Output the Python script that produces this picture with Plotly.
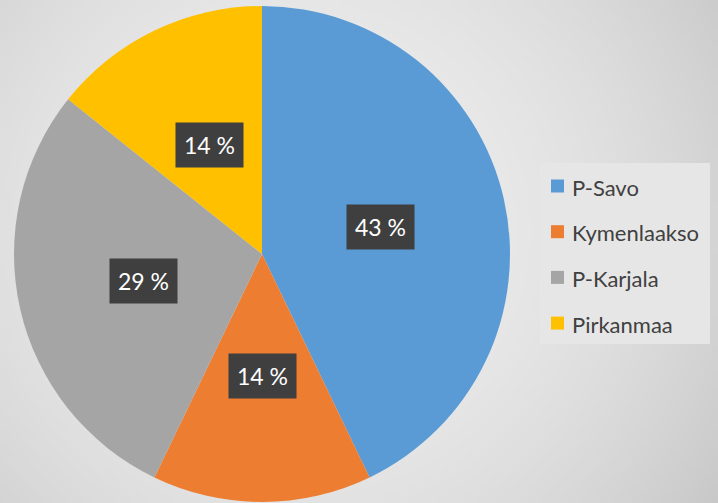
import math, zlib, struct, base64
import plotly.graph_objects as go

labels = ["P-Savo", "Kymenlaakso", "P-Karjala", "Pirkanmaa"]
values = [3, 1, 2, 1]
colors = ["#5B9BD5", "#ED7D31", "#A5A5A5", "#FFC000"]

W, H = 718, 503
FONT = "Lato, Roboto, sans-serif"

# ---- radial gradient background as a PNG (style only) ----
def make_png(w, h):
    rows = []
    cx, cy = w * 0.42, h * 0.45
    dmax = math.hypot(max(cx, w - cx), max(cy, h - cy))
    for j in range(h):
        row = bytearray([0])
        for i in range(w):
            d = math.hypot(i - cx, j - cy) / dmax
            v = int(238 - 38 * d ** 2)
            row += bytes([v, v, v])
        rows.append(bytes(row))
    raw = b"".join(rows)
    def chunk(t, data):
        c = struct.pack(">I", len(data)) + t + data
        return c + struct.pack(">I", zlib.crc32(t + data) & 0xffffffff)
    png = b"\x89PNG\r\n\x1a\n" + chunk(b"IHDR", struct.pack(">IIBBBBB", w, h, 8, 2, 0, 0, 0))
    png += chunk(b"IDAT", zlib.compress(raw, 9)) + chunk(b"IEND", b"")
    return "data:image/png;base64," + base64.b64encode(png).decode()

bg = make_png(180, 126)

# pie geometry (pixels)
left, right = 14, 510
top_px = 5
r = (right - left) / 2
cx_px = left + r
cy_px_from_bottom = (H - top_px) / 2

fig = go.Figure(go.Pie(
    labels=labels, values=values, sort=False, direction="clockwise", rotation=0,
    marker=dict(colors=colors, line=dict(width=0)),
    textinfo="none", hoverinfo="label+percent", showlegend=False,
    domain=dict(x=[left / W, right / W], y=[0, (H - top_px) / H]),
))

annotations = []
total = sum(values)
cum = 0
for lab, v in zip(labels, values):
    mid = (cum + v / 2) / total * 2 * math.pi
    cum += v
    px = cx_px + 0.49 * r * math.sin(mid)
    py = cy_px_from_bottom + 0.49 * r * math.cos(mid)
    annotations.append(dict(
        x=px / W, y=py / H, xref="paper", yref="paper", showarrow=False,
        text=f"{round(v / total * 100)} %",
        font=dict(family=FONT, size=23, color="white"),
        bgcolor="#3f3f3f", borderpad=8, xanchor="center", yanchor="middle",
    ))

# custom legend
shapes = [dict(type="rect", xref="paper", yref="paper",
               x0=540 / W, x1=710 / W, y0=1 - 344 / H, y1=1 - 163 / H,
               fillcolor="#e6e6e6", line=dict(width=0), layer="below")]
leg_y0, leg_step = 186, 45.7
for i, (lab, col) in enumerate(zip(labels, colors)):
    yc = leg_y0 + i * leg_step
    shapes.append(dict(type="rect", xref="paper", yref="paper",
                       x0=551 / W, x1=564 / W, y0=1 - (yc + 6.5) / H, y1=1 - (yc - 6.5) / H,
                       fillcolor=col, line=dict(width=0)))
    annotations.append(dict(
        x=570 / W, y=1 - (yc + 1) / H, xref="paper", yref="paper", showarrow=False,
        text=lab, xanchor="left", yanchor="middle",
        font=dict(family=FONT, size=22, color="#404040"),
    ))

fig.update_layout(
    width=W, height=H, margin=dict(l=0, r=0, t=0, b=0),
    paper_bgcolor="#e3e3e3", plot_bgcolor="#e3e3e3",
    images=[dict(source=bg, xref="paper", yref="paper", x=0, y=1, sizex=1, sizey=1,
                 sizing="stretch", layer="below", xanchor="left", yanchor="top")],
    shapes=shapes, annotations=annotations,
)

fig.write_html("out.html", config={"displayModeBar": False},
               post_script="document.body.style.margin='0';document.body.style.overflow='hidden';")
